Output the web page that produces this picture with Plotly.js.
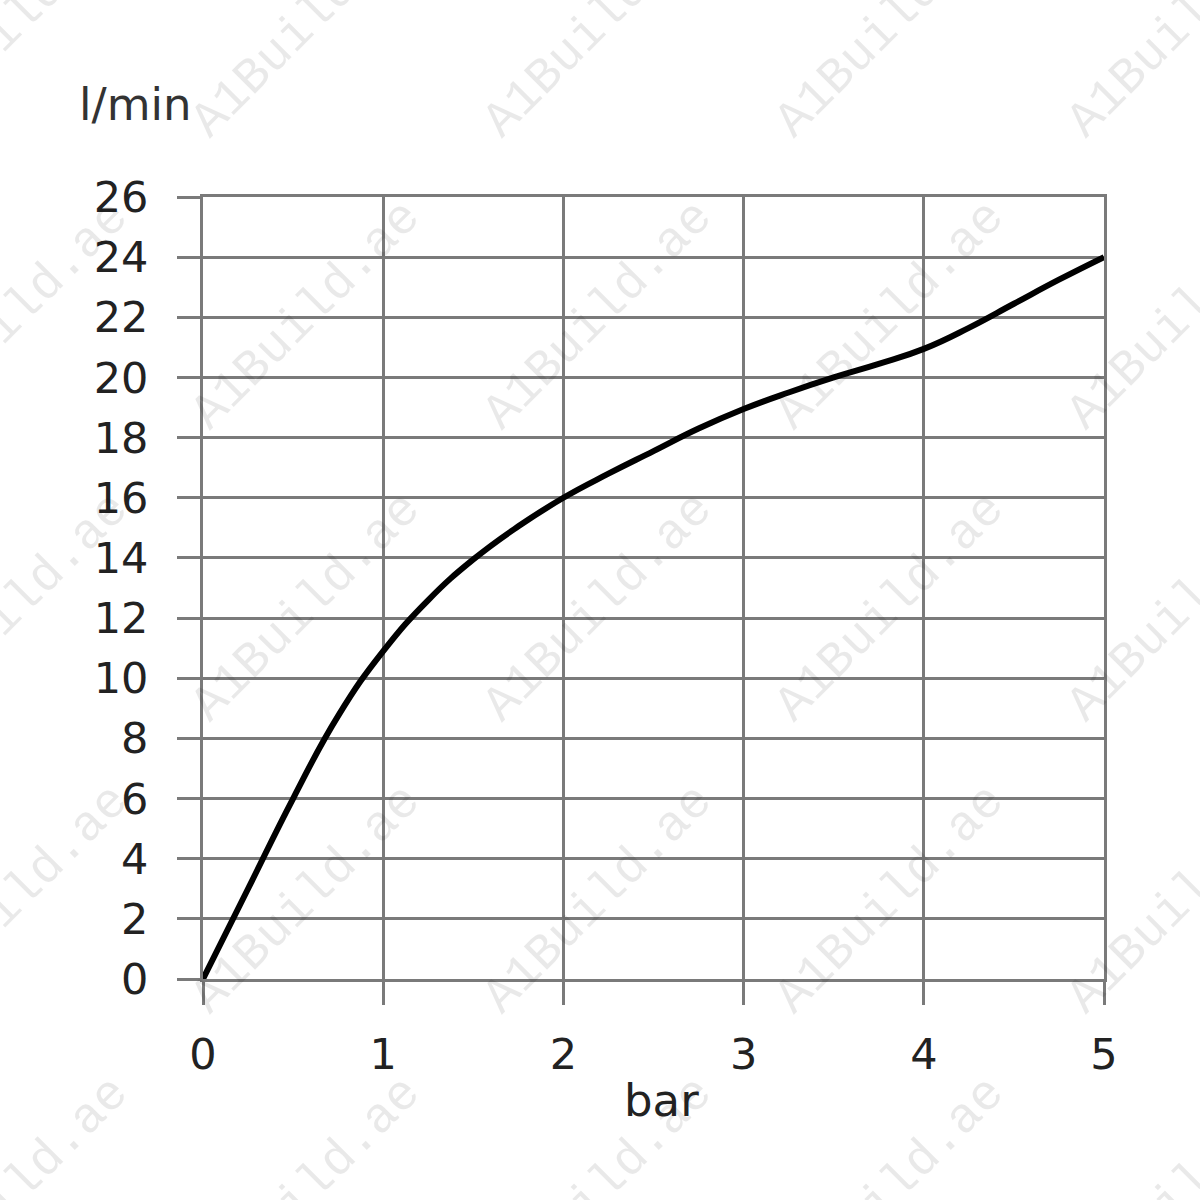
<!DOCTYPE html>
<html>
<head>
<meta charset="utf-8">
<script src="https://cdn.plot.ly/plotly-3.0.1.min.js"></script>
<style>html,body{margin:0;padding:0;background:#fff;}#chart{width:1200px;height:1200px;}</style>
</head>
<body>
<div id="chart"></div>
<script>
// Data
const pressureBar = [0, 0.25, 0.5, 0.75, 1, 1.25, 1.5, 1.75, 2, 2.25, 2.5, 2.75, 3, 3.25, 3.5, 3.75, 4, 4.25, 4.5, 4.75, 5];
const flowLpm     = [0, 3.0, 6.0, 8.75, 10.9, 12.6, 13.95, 15.05, 16.0, 16.8, 17.55, 18.3, 18.95, 19.5, 20.0, 20.45, 20.95, 21.65, 22.45, 23.25, 24.0];
const xTicks = [0, 1, 2, 3, 4, 5];
const yTicks = [0, 2, 4, 6, 8, 10, 12, 14, 16, 18, 20, 22, 24, 26];
const xLabel = "bar";
const yLabel = "l/min";
const watermarkText = "A1Build.ae";

const W = 1200, H = 1200;
const L = 203, R = 96, T = 197, B = 221;
const pw = W - L - R, ph = H - T - B;
function px2paperX(px){ return (px - L) / pw; }
function px2paperY(py){ return (H - B - py) / ph; }

const annotations = [];
// watermark grid
const wmX = [14, 306, 598, 890, 1182];
const wmY = [23, 315, 607, 899, 1191];
wmX.forEach(cx => wmY.forEach(cy => {
  annotations.push({
    xref: 'paper', yref: 'paper', x: px2paperX(cx), y: px2paperY(cy),
    text: watermarkText, showarrow: false, textangle: -45,
    xanchor: 'center', yanchor: 'middle',
    font: {family: 'Liberation Mono, DejaVu Sans Mono, monospace', size: 50, color: 'rgba(0,0,0,0.085)'}
  });
}));
annotations.push({
  xref: 'paper', yref: 'paper', x: px2paperX(77), y: px2paperY(104),
  xanchor: 'left', yanchor: 'middle', showarrow: false,
  text: yLabel, font: {family: 'DejaVu Sans, Verdana, sans-serif', size: 45, color: '#333'}
});
annotations.push({
  xref: 'paper', yref: 'paper', x: px2paperX(661), y: px2paperY(1100),
  xanchor: 'center', yanchor: 'middle', showarrow: false,
  text: xLabel, font: {family: 'DejaVu Sans, Verdana, sans-serif', size: 45, color: '#222'}
});

const gridCol = '#7a7a7a';
const axisCommon = {
  showgrid: true, gridcolor: gridCol, gridwidth: 3,
  zeroline: false, showline: true, mirror: true, linecolor: gridCol, linewidth: 3,
  ticks: 'outside', ticklen: 23, tickwidth: 3, tickcolor: gridCol,
  tickfont: {family: 'DejaVu Sans, Verdana, sans-serif', size: 43, color: '#222'},
  fixedrange: true
};

const trace = {
  x: pressureBar, y: flowLpm, type: 'scatter', mode: 'lines',
  line: {color: '#000', width: 6, shape: 'spline', smoothing: 1.3},
  hoverinfo: 'skip', cliponaxis: false
};

const layout = {
  width: W, height: H,
  margin: {l: L, r: R, t: T, b: B},
  paper_bgcolor: '#fff', plot_bgcolor: '#fff',
  showlegend: false,
  xaxis: Object.assign({}, axisCommon, {range: [0, 5], tickvals: xTicks, ticktext: xTicks.map(String), ticklabelstandoff: 12}),
  yaxis: Object.assign({}, axisCommon, {range: [0, 26], tickvals: yTicks, ticktext: yTicks.map(String), ticklabelstandoff: 20}),
  annotations: annotations
};

Plotly.newPlot('chart', [trace], layout, {staticPlot: true, displayModeBar: false});
</script>
</body>
</html>
